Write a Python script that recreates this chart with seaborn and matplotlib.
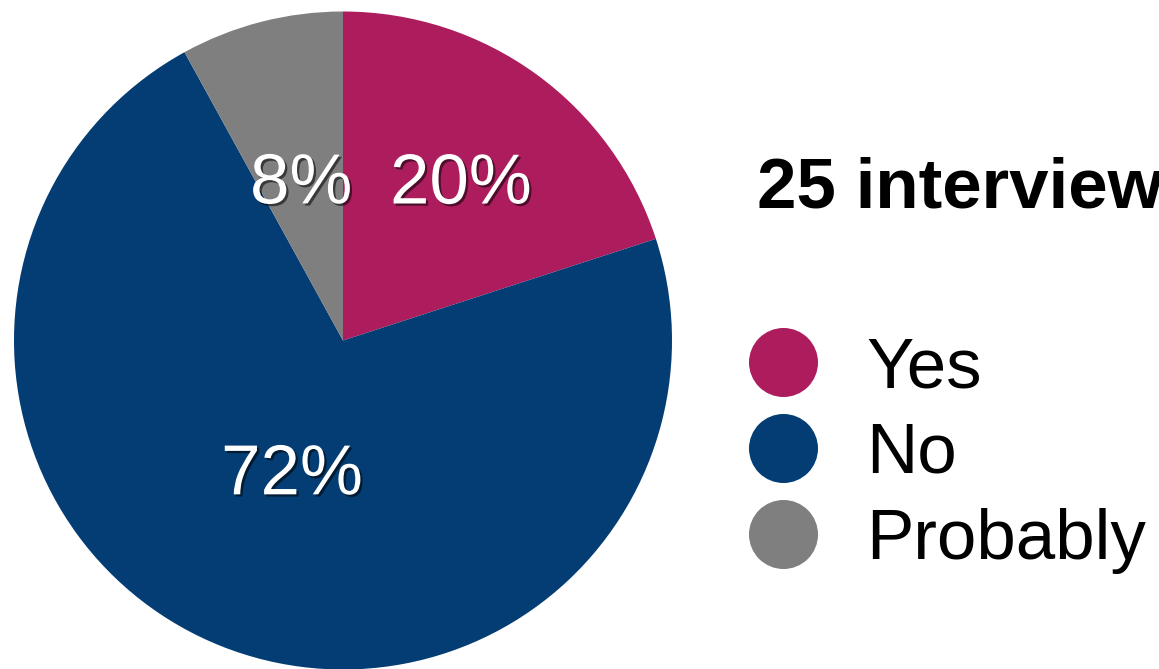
import matplotlib
matplotlib.use("Agg")
import matplotlib.pyplot as plt
import matplotlib.patheffects as pe
from matplotlib.lines import Line2D
import numpy as np
import seaborn as sns

# Survey answers
categories = ["Yes", "No", "Probably"]
shares = [20, 72, 8]
pct_labels = ["20%", "72%", "8%"]
title = "25 interviews"

colors = ["#AD1D5E", "#033D73", "#7F7F7F"]
# radial position of each percentage label, as a fraction of the radius
label_radius = [0.61, 0.42, 0.51]

sns.set_theme(style="white")
plt.rcParams["font.family"] = ["Liberation Sans", "DejaVu Sans"]
plt.rcParams["text.color"] = "black"

W, H = 1159, 669
fig = plt.figure(figsize=(W / 100, H / 100), dpi=100)
ax = fig.add_axes([0, 0, 1, 1])

cx, cy, r = 343, H - 340.5, 329
wedges, _ = ax.pie(shares, colors=colors, startangle=90, counterclock=False,
                   center=(cx, cy), radius=r,
                   wedgeprops=dict(linewidth=0, antialiased=True))
ax.set_xlim(0, W)
ax.set_ylim(0, H)
ax.set_aspect("equal")
ax.axis("off")

shadow = [pe.SimplePatchShadow(offset=(1.6, -1.6), shadow_rgbFace="black", alpha=0.55),
          pe.Normal()]
pct_size = 51
cap = 0.716 * pct_size * 100 / 72
for w, lab, frac in zip(wedges, pct_labels, label_radius):
    mid = np.deg2rad((w.theta1 + w.theta2) / 2)
    x = cx + frac * r * np.cos(mid)
    y = cy + frac * r * np.sin(mid) - cap / 2
    ax.text(x, y, lab, ha="center", va="baseline", color="white",
            fontsize=pct_size, path_effects=shadow)

ax.text(757, H - 207, title, ha="left", va="baseline", fontsize=51,
        fontweight="bold", color="black")

handles = [Line2D([], [], linestyle="none", marker="o", markersize=49.7,
                  markerfacecolor=c, markeredgewidth=0) for c in colors]
ax.legend(handles, categories, loc="upper left",
          bbox_to_anchor=(748 / W, (H - 336) / H), bbox_transform=fig.transFigure,
          frameon=False, fontsize=51, handlelength=0.98, handleheight=0.7,
          handletextpad=0.69, labelspacing=0.28, borderpad=0, borderaxespad=0,
          labelcolor="black")

fig.savefig("out.png", dpi=100)
